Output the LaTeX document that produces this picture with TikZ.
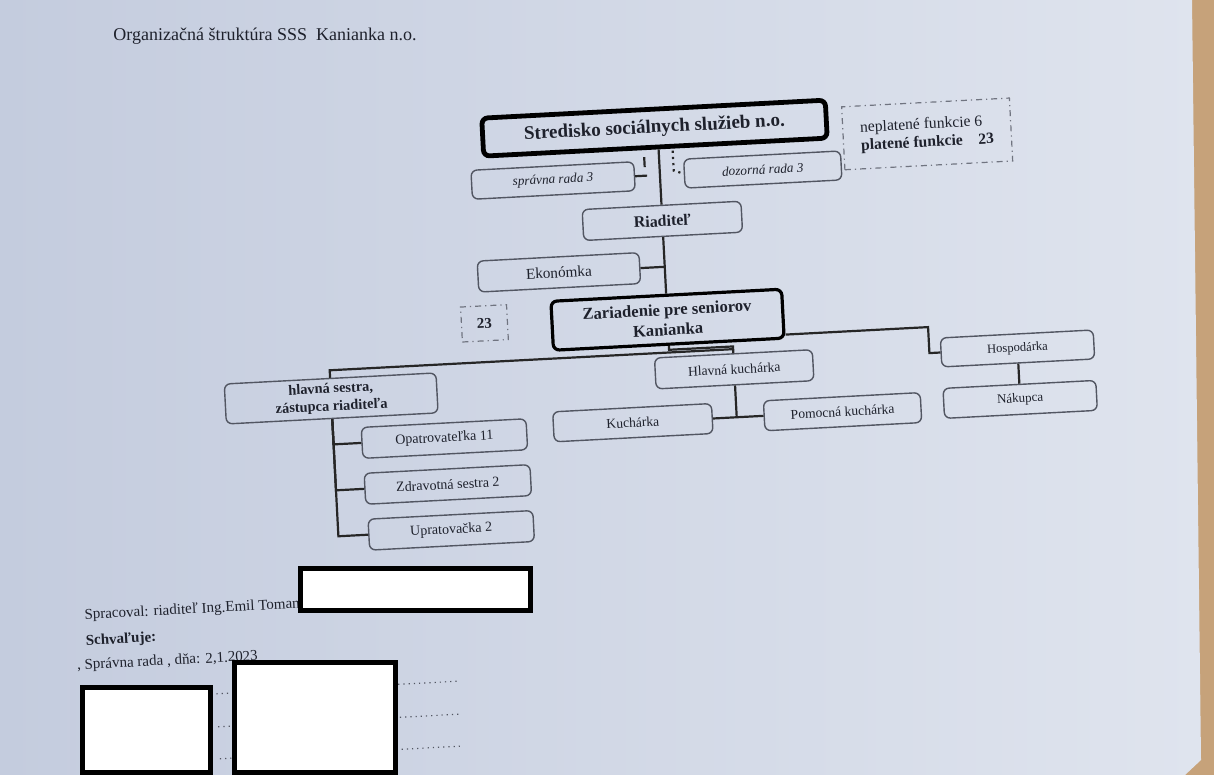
\documentclass[tikz,border=0pt]{standalone}
\usepackage{fontspec}
\setmainfont{Liberation Serif}
\definecolor{paperL}{RGB}{196,204,222}
\definecolor{paperR}{RGB}{223,228,238}
\definecolor{desk}{RGB}{198,162,122}
\definecolor{ink}{RGB}{30,33,44}
\definecolor{rim}{RGB}{82,86,98}
\definecolor{note}{RGB}{112,116,128}

\begin{document}
\begin{tikzpicture}[x=0.5pt,y=-0.5pt,
		orgbox/.style={draw=rim, line width=0.7pt, rounded corners=3pt, inner sep=0pt, text=ink, minimum height=15pt, minimum width=#1, font=\fontsize{7}{8}\selectfont},
		headbox/.style={orgbox=#1, draw=black, line width=1.6pt, font=\bfseries\fontsize{8.3}{10}\selectfont},
		notebox/.style={draw=note, line width=0.6pt, dash dot, inner sep=0pt, text=ink},
		link/.style={draw=black!85, line width=1.1pt},
		lbl/.style={text=ink, inner sep=0pt, font=\fontsize{7.5}{9}\selectfont}]
	\fill[desk] (0,0) rectangle (1214,775);
	\shade[left color=paperL, right color=paperR] (0,0) -- (1192,0) -- (1201,760) -- (1185,775) -- (0,775) -- cycle;
	\useasboundingbox (0,0) rectangle (1214,775);
	\node[lbl, font=\fontsize{9}{10}\selectfont] (title) at (265,36) {Organizačná štruktúra SSS\ \ Kanianka n.o.};
	\begin{scope}[transform canvas={rotate around={3:(607,388)}}]
		\node[headbox=172pt, line width=2.4pt, minimum height=19pt, font=\bfseries\fontsize{9.5}{10}\selectfont] (ssz) at (668,131) {Stredisko sociálnych služieb n.o.};
		\node[notebox, minimum width=84pt, minimum height=31.5pt, align=left, font=\fontsize{7.8}{9}\selectfont] (funk) at (940,151) {neplatené funkcie 6\\\textbf{platené funkcie\quad 23}};
		\node[orgbox=81.5pt, minimum height=14.5pt, font=\itshape\fontsize{6.6}{8}\selectfont] (sprava) at (564,178) {správna rada 3};
		\node[orgbox=78.5pt, minimum height=14.5pt, font=\itshape\fontsize{6.6}{8}\selectfont] (dozor) at (774,178) {dozorná rada 3};
		\node[orgbox=79.5pt, minimum height=15.5pt, font=\bfseries\fontsize{8}{9}\selectfont] (riad) at (671,224) {Riaditeľ};
		\node[orgbox=81pt, minimum height=15.5pt, font=\fontsize{7.6}{8}\selectfont] (ekon) at (565,270) {Ekonómka};
		\node[notebox, minimum width=23pt, minimum height=17.5pt, font=\bfseries\fontsize{7.5}{8}\selectfont] (pocet) at (488,317) {23};
		\node[headbox=115.5pt, minimum height=24.5pt, align=center] (zar) at (671,323) {Zariadenie pre seniorov\\Kanianka};
		\node[orgbox=106pt, minimum height=20pt, align=center, font=\bfseries\fontsize{7.2}{8.8}\selectfont] (sestra) at (331,384) {hlavná sestra,\\zástupca riaditeľa};
		\node[orgbox=79pt, minimum height=15.5pt, font=\fontsize{6.8}{8}\selectfont] (hkuch) at (735,376) {Hlavná kuchárka};
		\node[orgbox=76.5pt, minimum height=14.5pt, font=\fontsize{6.3}{8}\selectfont] (hosp) at (1019,370) {Hospodárka};
		\node[orgbox=76.5pt, font=\fontsize{6.5}{8}\selectfont] (nakup) at (1019,421) {Nákupca};
		\node[orgbox=79.5pt, font=\fontsize{6.8}{8}\selectfont] (kuch) at (631,424) {Kuchárka};
		\node[orgbox=78.5pt, font=\fontsize{6.8}{8}\selectfont] (pkuch) at (841,424) {Pomocná kuchárka};
		\node[orgbox=82.5pt, minimum height=15.5pt] (opat) at (442,430) {Opatrovateľka 11};
		\node[orgbox=83pt, minimum height=15.5pt] (zdrav) at (443,476) {Zdravotná sestra 2};
		\node[orgbox=82.5pt, minimum height=15.5pt] (uprat) at (444,522) {Upratovačka 2};
		\draw[link] (ssz.south -| riad.north) -- (riad.north);
		\draw[link] (riad.south) -- (zar.north);
		\draw[link] (ekon.east) -- (ekon.east -| riad.south);
		\draw[link] (sprava.east) -- ++(12,0);
		\draw[link] (ssz.south -| sprava.east) ++(10,7) -- ++(0,10);
		\draw[link, dotted] (ssz.south) ++(17,2) -- ++(0,20) -- (dozor.west);
		\draw[link] (zar.south) -- ++(0,4) -| (hkuch.north);
		\draw[link] (sestra.north) |- ([yshift=2pt]hkuch.north);
		\draw[link] ([yshift=-10.5pt]zar.east) -| ([xshift=-5.5pt]hosp.west) -- (hosp.west);
		\draw[link] (hosp.south) -- (nakup.north);
		\draw[link] (hkuch.south) -- (hkuch.south |- kuch.east);
		\draw[link] (kuch.east) -- (pkuch.west);
		\foreach \n in {opat,zdrav,uprat}
			\draw[link] (sestra.south) |- (\n.west);
		\node[lbl, anchor=west] (sprac) at (73,588) {Spracoval: riaditeľ Ing.Emil Toman};
		\node[lbl, anchor=west, font=\bfseries\fontsize{7.5}{9}\selectfont] (schval) at (73,614) {Schvaľuje:};
		\node[lbl, anchor=west] (rada) at (63,638) {, Správna rada , dňa: 2,1.2023};
		\foreach \y in {673,706,738}
			\draw[rim, dotted, line width=0.6pt] (201,\y) -- (442,\y);
	\end{scope}
	\draw[line width=2.5pt, fill=white] (300.5,568.5) rectangle (530.5,610.5);
	\draw[line width=2.5pt, fill=white] (234.5,662.5) rectangle (395.5,772.5);
	\draw[line width=2.5pt, fill=white] (82.5,687.5) rectangle (210.5,772.5);
\end{tikzpicture}
\end{document}
